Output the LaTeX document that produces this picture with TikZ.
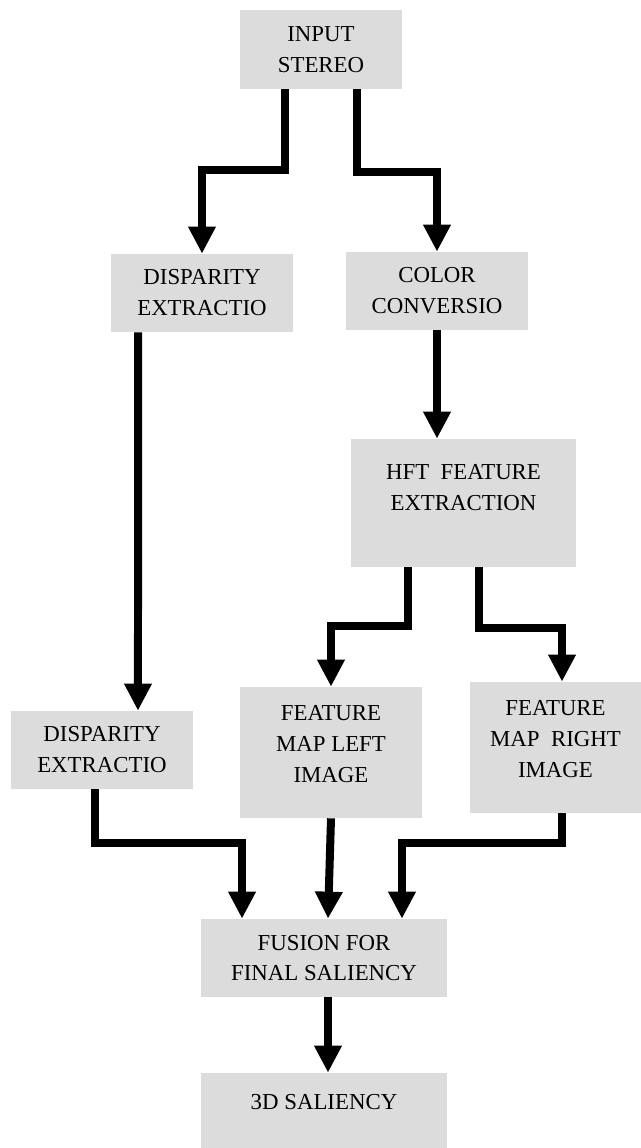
\documentclass[tikz,border=0pt]{standalone}
\usepackage{fontspec}
\setmainfont{Liberation Serif}
\definecolor{BoxGray}{RGB}{220, 220, 220}
\usetikzlibrary{arrows.meta, positioning}

\begin{document}
\begin{tikzpicture}[x=0.02cm, y=-0.02cm,
        box/.style={rectangle, fill=BoxGray, inner sep=1pt, minimum width=3.64cm, minimum height=1.56cm, align=center, font=\fontsize{13}{17.6}\selectfont},
        arrow/.style={-{Triangle[length=0.54cm, width=0.52cm]}, line width=0.16cm}
    ]
        \useasboundingbox (0,0) rectangle (641,1148);
        \node[box, minimum width=3.24cm, minimum height=1.58cm] (input) at (321,49.5) {INPUT\\STEREO};
        \node[box] (disp1) at (202,293) {DISPARITY\\EXTRACTIO};
        \node[box] (color) at (437,291) {COLOR\\CONVERSIO};
        \node[box, minimum width=4.5cm, minimum height=2.56cm, text depth=0.62cm] (hft) at (463.5,503) {HFT\ \ FEATURE\\EXTRACTION};
        \node[box] (disp2) at (102,750) {DISPARITY\\EXTRACTIO};
        \node[box, minimum height=2.62cm, text depth=0.34cm] (fmleft) at (331,752.5) {FEATURE\\MAP LEFT\\IMAGE};
        \node[box, minimum width=3.42cm, minimum height=2.62cm, text depth=0.34cm] (fmright) at (555.5,747.5) {FEATURE\\MAP\ \ RIGHT\\IMAGE};
        \node[box, minimum width=4.92cm] (fusion) at (324,958) {FUSION FOR\\FINAL SALIENCY};
        \node[box, minimum width=4.92cm, minimum height=1.5cm, text depth=0.34cm] (saliency) at (324,1110.5) {3D SALIENCY};
        \draw[arrow] ([xshift=-0.72cm]input.south) -- ++(0,81) -| (disp1.north);
        \draw[arrow] ([xshift=0.72cm]input.south) -- ++(0,83) -| (color.north);
        \draw[arrow] ([xshift=-1.28cm]disp1.south) -- ([xshift=0.72cm]disp2.north);
        \draw[arrow] (color.south) -- (color.south |- hft.north);
        \draw[arrow] ([xshift=-1.11cm]hft.south) -- ++(0,59) -| (fmleft.north);
        \draw[arrow] ([xshift=0.31cm]hft.south) -- ++(0,61) -| ([xshift=0.13cm]fmright.north);
        \draw[arrow] ([xshift=-0.14cm]disp2.south) -- ++(0,54) -| ([xshift=-1.64cm]fusion.north);
        \draw[arrow] (fmleft.south) -- ([xshift=0.08cm]fusion.north);
        \draw[arrow] ([xshift=0.13cm]fmright.south) -- ++(0,30) -| ([xshift=1.56cm]fusion.north);
        \draw[arrow] ([xshift=0.08cm]fusion.south) -- ([xshift=0.08cm]saliency.north);
    \end{tikzpicture}
\end{document}
